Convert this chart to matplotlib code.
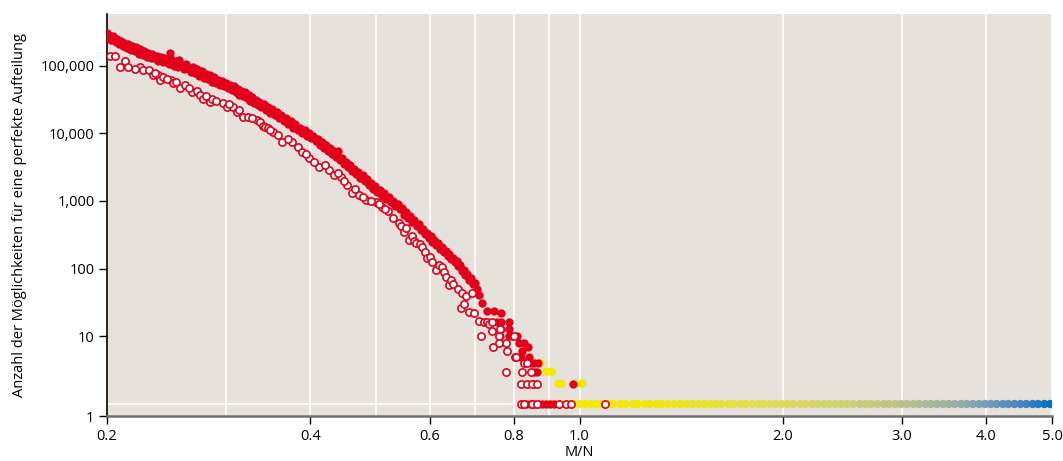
import numpy as np
import matplotlib
matplotlib.use("Agg")
import matplotlib.pyplot as plt
from matplotlib.colors import LinearSegmentedColormap, LogNorm
from matplotlib.ticker import FixedLocator, NullFormatter

plt.rcParams['font.family'] = ['Open Sans', 'DejaVu Sans']

# gefüllte Punkte (obere Reihe)
voll_x = [0.200, 0.201, 0.2015, 0.203, 0.204, 0.206, 0.207, 0.208, 0.210, 0.211,
          0.212, 0.214, 0.215, 0.217, 0.218, 0.220, 0.221, 0.223, 0.224, 0.226,
          0.227, 0.229, 0.230, 0.232, 0.233, 0.235, 0.237, 0.238, 0.240, 0.242,
          0.243, 0.245, 0.247, 0.248, 0.249, 0.251, 0.253, 0.255, 0.256, 0.258,
          0.260, 0.262, 0.264, 0.266, 0.268, 0.270, 0.272, 0.274, 0.276, 0.278,
          0.280, 0.282, 0.284, 0.286, 0.288, 0.290, 0.292, 0.294, 0.296, 0.298,
          0.300, 0.302, 0.304, 0.306, 0.308, 0.310, 0.312, 0.314, 0.316, 0.318,
          0.320, 0.322, 0.324, 0.326, 0.328, 0.330, 0.332, 0.334, 0.336, 0.338,
          0.341, 0.344, 0.346, 0.349, 0.351, 0.354, 0.357, 0.359, 0.362, 0.365,
          0.368, 0.371, 0.374, 0.377, 0.380, 0.383, 0.386, 0.389, 0.392, 0.395,
          0.398, 0.401, 0.404, 0.407, 0.410, 0.413, 0.416, 0.419, 0.422, 0.425,
          0.428, 0.431, 0.434, 0.437, 0.440, 0.443, 0.446, 0.449, 0.452, 0.455,
          0.458, 0.461, 0.464, 0.467, 0.471, 0.474, 0.478, 0.481, 0.485, 0.488,
          0.492, 0.495, 0.499, 0.502, 0.506, 0.510, 0.514, 0.518, 0.522, 0.526,
          0.530, 0.534, 0.538, 0.542, 0.546, 0.550, 0.554, 0.558, 0.562, 0.566,
          0.570, 0.574, 0.578, 0.582, 0.586, 0.590, 0.594, 0.598, 0.602, 0.606,
          0.610, 0.614, 0.618, 0.622, 0.626, 0.630, 0.634, 0.638, 0.642, 0.646,
          0.650, 0.654, 0.658, 0.662, 0.666, 0.670, 0.674, 0.678, 0.682, 0.686,
          0.690, 0.695, 0.700, 0.705,
          0.710, 0.717, 0.730, 0.747, 0.766, 0.755, 0.766, 0.786, 0.766, 0.786,
          0.764, 0.786, 0.794, 0.807, 0.813, 0.827, 0.839, 0.821, 0.805, 0.819,
          0.841, 0.847, 0.856, 0.868, 0.856, 0.865, 0.856, 0.977,
          0.833, 0.844, 0.856, 0.868, 0.879, 0.891, 0.903, 0.916]
voll_y = [300000, 255000, 280000, 240000, 270000, 225000, 250000, 205000, 230000, 195000,
          215000, 180000, 205000, 170000, 195000, 165000, 185000, 150000, 175000, 145000,
          165000, 135000, 155000, 130000, 150000, 128000, 140000, 118000, 135000, 112000,
          130000, 120000, 105000, 155000, 125000, 100000, 115000, 95000, 120000, 100000,
          88000, 105000, 90000, 80000, 95000, 78000, 88000, 70000, 82000, 66000,
          76000, 64000, 72000, 58000, 68000, 56000, 62000, 52000, 60000, 50000,
          55000, 46000, 52000, 43000, 49000, 40000, 45000, 37000, 42000, 35000,
          40000, 33000, 37000, 30000, 34000, 28000, 31000, 26000, 29000, 24000,
          27000, 22000, 24500, 20000, 23000, 18500, 20500, 17000, 18500, 15000,
          17000, 13500, 15000, 12000, 13500, 11000, 12000, 10000, 11000, 9200,
          10200, 8500, 9200, 7600, 8200, 6800, 7400, 6100, 6800, 5500,
          6000, 4900, 5400, 4400, 5500, 4000, 4300, 3500, 3800, 3200,
          3400, 2800, 3000, 2500, 2700, 2200, 2400, 1950, 2100, 1700,
          1850, 1500, 1650, 1350, 1450, 1200, 1300, 1050, 1150, 950,
          1000, 850, 900, 750, 780, 620, 680, 560, 590, 480,
          520, 420, 450, 370, 390, 320, 340, 280, 300, 250,
          265, 220, 235, 195, 210, 175, 185, 155, 165, 140,
          145, 125, 130, 108, 112, 92, 96, 80, 84, 68,
          72, 60, 62, 50,
          41, 31, 24, 24, 22, 16, 16, 16, 13, 13,
          10, 10, 10, 10, 8, 8, 7, 6, 5, 5,
          5, 4, 4, 4, 3, 3, 2, 2,
          1, 1, 1, 1, 1, 1, 1, 1]

# offene Punkte (untere Reihe)
offen_x = [0.202, 0.2055, 0.209, 0.2126, 0.2148, 0.2237, 0.226, 0.2307, 0.2338, 0.2378,
           0.2394, 0.2418, 0.2486, 0.2503, 0.2562, 0.2607, 0.267, 0.2716, 0.2743, 0.277,
           0.2838, 0.2857, 0.2966, 0.3006, 0.3068, 0.311, 0.3174, 0.3229, 0.333, 0.3364,
           0.3398, 0.342, 0.3456, 0.3515, 0.3575, 0.3635, 0.375, 0.3827, 0.3892, 0.3986,
           0.4124, 0.4266, 0.4338, 0.4444, 0.4535, 0.4611, 0.4722, 0.484, 0.500, 0.510,
           0.520, 0.530, 0.541, 0.545, 0.550, 0.554, 0.5596, 0.565, 0.570, 0.573,
           0.580, 0.585, 0.590, 0.595, 0.600, 0.605, 0.613, 0.620, 0.626, 0.630,
           0.635, 0.641, 0.645, 0.650, 0.660, 0.668, 0.670, 0.675, 0.680, 0.686,
           0.693, 0.697, 0.710, 0.715, 0.722, 0.730, 0.735, 0.742, 0.742, 0.744,
           0.760, 0.764, 0.778, 0.760, 0.780, 0.799, 0.802, 0.805,
           0.827, 0.836, 0.778, 0.821, 0.847, 0.819, 0.836, 0.850, 0.865,
           0.819, 0.827, 0.850, 0.865, 0.931, 0.954, 0.973, 1.092,
           0.220, 0.2355, 0.245, 0.253, 0.264, 0.280, 0.290, 0.303, 0.314, 0.328,
           0.348, 0.370, 0.394, 0.405, 0.420, 0.440, 0.448, 0.466, 0.478, 0.492,
           0.505, 0.515]
offen_y = [138000, 138000, 95000, 116000, 95000, 95000, 86000, 86000, 72000, 72000,
           61000, 68000, 61000, 55000, 47000, 52000, 41000, 42000, 37000, 32000,
           29000, 32000, 28000, 24400, 24400, 20600, 17300, 17300, 15700, 14600,
           12800, 12400, 11900, 10400, 9400, 7400, 7400, 6250, 5300, 4300,
           3200, 2860, 2400, 2250, 1720, 1310, 1220, 1030, 964, 820,
           700, 560, 472, 430, 350, 398, 264, 300, 260, 239,
           230, 208, 175, 143, 150, 125, 95, 115, 106, 90,
           75, 57, 68, 60, 50, 26, 44, 30, 40, 23,
           44, 22, 17, 10, 16, 16, 15, 12, 16, 7,
           10, 13, 8, 8, 6, 10, 5, 5,
           4, 4, 3, 3, 3, 2, 2, 2, 2,
           1, 1, 1, 1, 1, 1, 1, 1,
           88000, 78000, 64000, 58000, 46000, 35000, 30000, 27000, 22000, 16500,
           11000, 8300, 5000, 3800, 3400, 2600, 2000, 1500, 1150, 1000,
           900, 760]

# farbiges Band (gelb -> blau)
band_x = [0.876, 0.894, 0.910, 0.931, 0.941, 0.987, 1.010,
          0.90, 0.92, 0.94, 0.96, 0.98, 1.00, 1.02, 1.04, 1.06, 1.08, 1.10, 1.12,
          1.15, 1.17, 1.20, 1.22, 1.25, 1.27, 1.30, 1.32, 1.35, 1.38, 1.41, 1.44,
          1.47, 1.50, 1.53, 1.56, 1.59, 1.62, 1.66, 1.69, 1.73, 1.76, 1.80, 1.84,
          1.87, 1.91, 1.95, 1.99, 2.03, 2.07, 2.12, 2.16, 2.21, 2.25, 2.30, 2.34,
          2.39, 2.44, 2.49, 2.54, 2.60, 2.65, 2.70, 2.76, 2.82, 2.87, 2.93, 2.99,
          3.05, 3.12, 3.18, 3.25, 3.31, 3.38, 3.45, 3.52, 3.59, 3.67, 3.74, 3.82,
          3.90, 3.98, 4.06, 4.14, 4.23, 4.31, 4.40, 4.49, 4.58, 4.68, 4.77, 4.87,
          4.97]
band_y = [4, 3, 3, 2, 2, 2, 2] + [1] * 85

farben = LinearSegmentedColormap.from_list("gelbblau", [
    (0.00, "#f5eb00"), (0.22, "#f0e60e"), (0.40, "#e2df4e"), (0.58, "#d0d272"),
    (0.70, "#bcc288"), (0.80, "#9cb2a4"), (0.88, "#6f9ab6"), (0.95, "#3f82c0"),
    (1.00, "#0070c0")])

rot = "#e2001a"
hintergrund = "#e6e1da"

fig = plt.figure(figsize=(10.63, 4.61), dpi=100)
ax = fig.add_axes([107/1063, 45/461, 945/1063, 402/461])
ax.set_facecolor(hintergrund)

ax.scatter(band_x, band_y, c=band_x, cmap=farben, norm=LogNorm(0.9, 5.0),
           s=36, linewidths=0, zorder=3)
ax.scatter(voll_x, voll_y, s=36, color=rot, linewidths=0, zorder=4)
ax.scatter(offen_x, offen_y, s=27, facecolors="white", edgecolors=rot,
           linewidths=1.2, zorder=5)

ax.set_xscale("log")
ax.set_yscale("log")
ax.set_xlim(0.2, 5.0)
unten = 10 ** (-12 / 67.7)
ax.set_ylim(unten, 5.77e5)

xt = [0.2, 0.4, 0.6, 0.8, 1.0, 2.0, 3.0, 4.0, 5.0]
ax.xaxis.set_major_locator(FixedLocator(xt))
ax.set_xticklabels([f"{v:.1f}" for v in xt])
ax.xaxis.set_minor_locator(FixedLocator([0.3, 0.5, 0.7, 0.9]))
ax.xaxis.set_minor_formatter(NullFormatter())

yt = [unten, 10, 100, 1000, 10000, 100000]
ax.yaxis.set_major_locator(FixedLocator(yt))
ax.set_yticklabels(["1", "10", "100", "1,000", "10,000", "100,000"])
ax.yaxis.set_minor_locator(FixedLocator([1, 10, 100, 1000, 10000, 100000]))
ax.yaxis.set_minor_formatter(NullFormatter())

ax.grid(True, which="both", axis="x", color="white", linewidth=1.2, zorder=0)
ax.grid(True, which="minor", axis="y", color="white", linewidth=1.2, zorder=0)
ax.set_axisbelow(True)

ax.tick_params(which="major", direction="out", length=6, width=1, color="black",
               labelsize=10.5, pad=3)
ax.tick_params(which="minor", length=0)

for s in ["top", "right"]:
    ax.spines[s].set_visible(False)
ax.spines["left"].set_color("black")
ax.spines["left"].set_linewidth(1.2)
ax.spines["bottom"].set_color("#707070")
ax.spines["bottom"].set_linewidth(1.8)

ax.set_xlabel("M/N", fontsize=10.5, labelpad=1)
ax.set_ylabel("Anzahl der Möglichkeiten für eine perfekte Aufteilung", fontsize=10.5,
              labelpad=10)

fig.savefig("out.png", dpi=100)
